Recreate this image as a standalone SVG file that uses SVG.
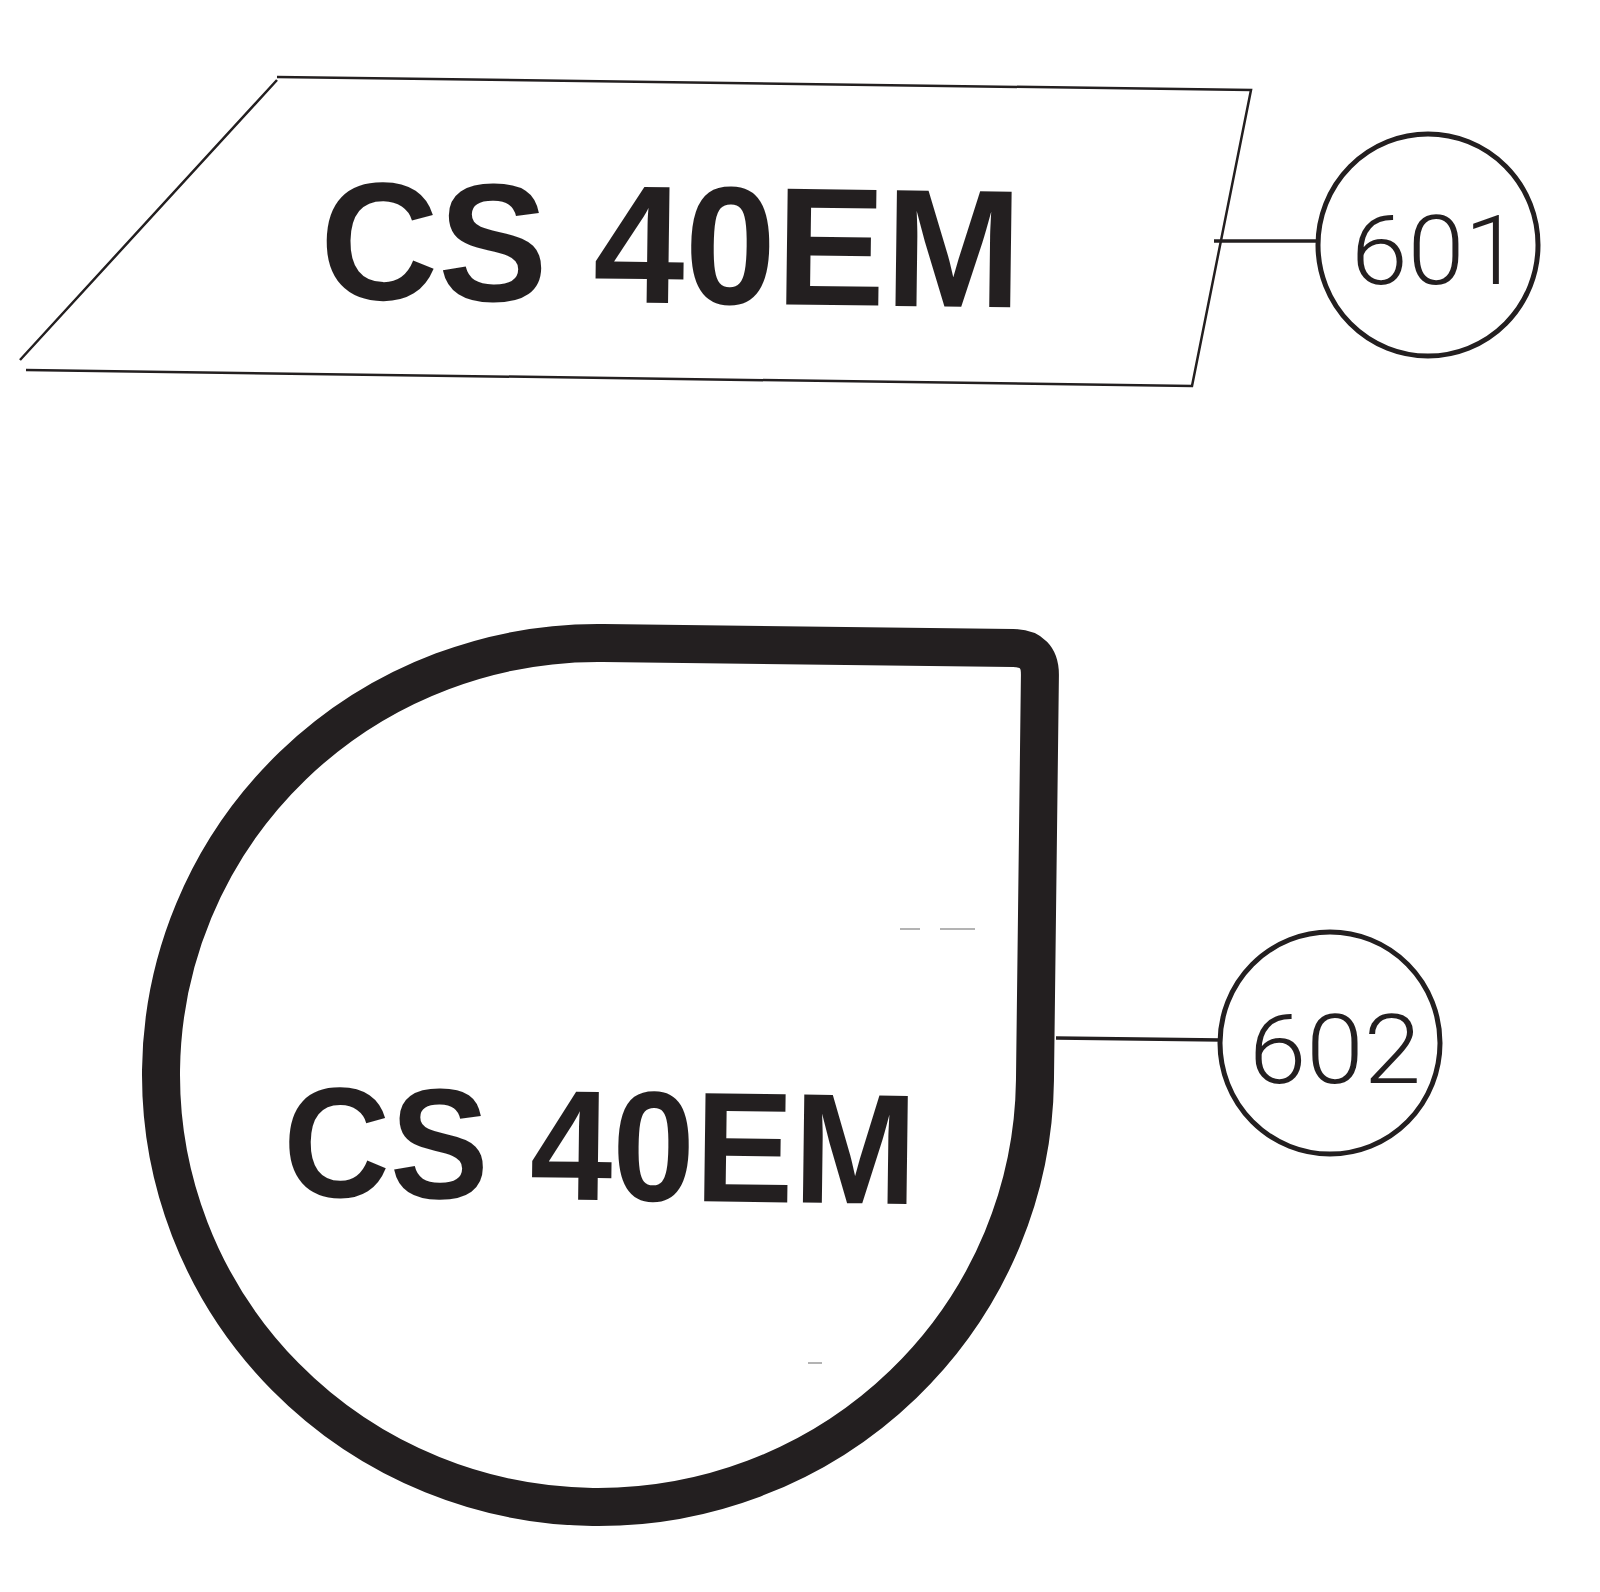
<svg xmlns="http://www.w3.org/2000/svg" width="1600" height="1592" viewBox="0 0 1600 1592">
<style>
.ink{fill:none;stroke:#231f20;stroke-linejoin:miter}
.big{font-family:"Liberation Sans",Arial,sans-serif;font-weight:bold;fill:#231f20}
.num{font-family:Roboto,"Liberation Sans",Arial,sans-serif;font-weight:300;fill:#231f20}
.callout{fill:#fff;stroke:#231f20;stroke-width:5}
.lead{stroke:#231f20;stroke-width:3.5;fill:none}
</style>
<rect width="1600" height="1592" fill="#fff"/>
<g id="label-601">
  <path class="ink" stroke-width="2.5" d="M 277 77 L 1251 90 L 1192 386 L 26 370 M 20 360 L 277 80"/>
  <text class="big" x="320" y="303" font-size="168" textLength="702" lengthAdjust="spacingAndGlyphs" transform="rotate(0.7 668 244)">CS 40EM</text>
</g>
<g id="label-602">
  <g transform="rotate(0.7 598 1075)">
    <path class="ink" stroke-width="38" d="M 598 643 A 437 432 0 1 0 1035 1075 L 1035 670 Q 1035 643 1008 643 Z"/>
    <text class="big" x="284" y="1200" font-size="157" textLength="634" lengthAdjust="spacingAndGlyphs">CS 40EM</text>
  </g>
  <g stroke="#9a9a9a" stroke-width="1.5">
    <line x1="900" y1="929" x2="920" y2="929"/>
    <line x1="940" y1="929" x2="975" y2="929"/>
    <line x1="808" y1="1363" x2="822" y2="1363"/>
  </g>
</g>
<g id="connectors">
  <line class="lead" x1="1214" y1="241" x2="1318" y2="241"/>
  <line class="lead" x1="1056" y1="1038" x2="1221" y2="1040"/>
</g>
<g id="callout-601">
  <ellipse class="callout" cx="1428" cy="245" rx="110" ry="111"/>
  <text class="num" x="1351" y="284" font-size="97" textLength="170" lengthAdjust="spacingAndGlyphs">601</text>
</g>
<g id="callout-602">
  <ellipse class="callout" cx="1330" cy="1043" rx="110" ry="111"/>
  <text class="num" x="1249" y="1083" font-size="97" textLength="172" lengthAdjust="spacingAndGlyphs">602</text>
</g>
</svg>
